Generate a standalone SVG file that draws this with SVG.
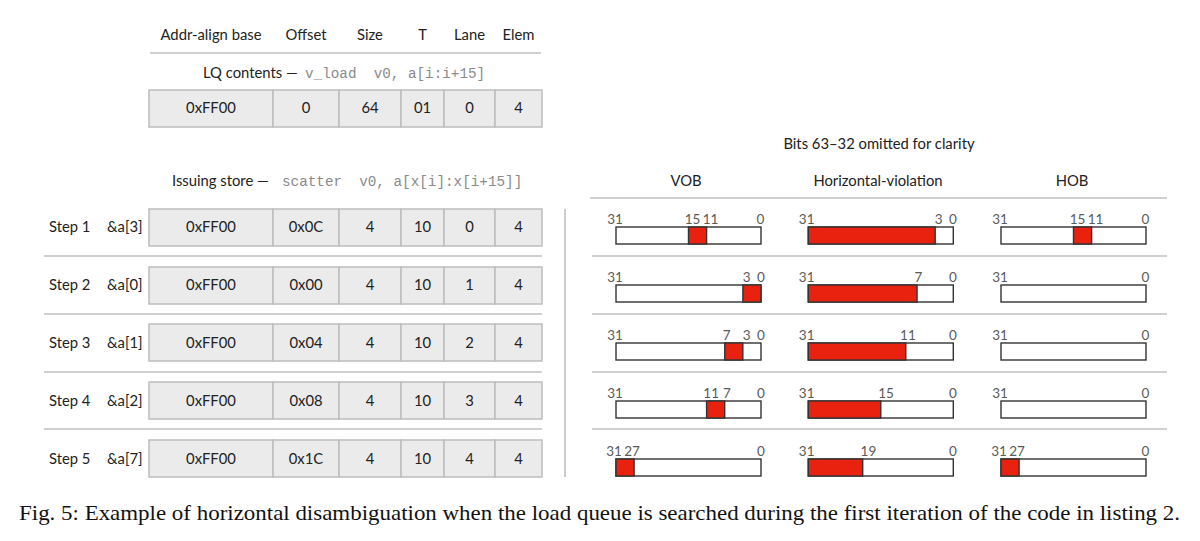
<svg xmlns="http://www.w3.org/2000/svg" width="1200" height="541" viewBox="0 0 1200 541">
<style>
text{font-family:Lato,"Open Sans","Liberation Sans",sans-serif;fill:#222;}
.h{font-size:14.8px;text-anchor:middle;}
.c{font-size:14.8px;text-anchor:middle;}
.s{font-size:14.8px;}
.m{font-family:"Liberation Mono","DejaVu Sans Mono",monospace;fill:#8a8a8a;font-size:14.3px;}
.cell{fill:#ebebeb;stroke:#bdbdbd;stroke-width:1.5;}
.sep{stroke:#d0d0d0;stroke-width:2;fill:none;}
.bar{fill:#fff;stroke:#333;stroke-width:1.4;}
.red{fill:#e8220f;stroke:#333;stroke-width:1.4;}
.b{font-size:13.5px;fill:#5a5a5a;text-anchor:middle;}
.cap{font-family:"Liberation Serif","Times New Roman",serif;font-size:21px;fill:#111;}
</style>
<defs>
<g id="rowcells">
<rect class="cell" x="149" y="0" width="124" height="37"/>
<rect class="cell" x="273" y="0" width="66" height="37"/>
<rect class="cell" x="339" y="0" width="62" height="37"/>
<rect class="cell" x="401" y="0" width="43" height="37"/>
<rect class="cell" x="444" y="0" width="51" height="37"/>
<rect class="cell" x="495" y="0" width="47" height="37"/>
</g>
</defs>

<g id="header">
<text class="h" x="211" y="40">Addr-align base</text>
<text class="h" x="306" y="40">Offset</text>
<text class="h" x="370" y="40">Size</text>
<text class="h" x="422.5" y="40">T</text>
<text class="h" x="469.5" y="40">Lane</text>
<text class="h" x="518.5" y="40">Elem</text>
<line class="sep" x1="150" y1="53" x2="541" y2="53"/>
<text class="s" x="203" y="78">LQ contents —<tspan class="m" x="305" xml:space="preserve">v_load  v0, a[i:i+15]</tspan></text>
</g>

<g id="lq-row">
<use href="#rowcells" y="90"/>
<text class="c" x="211" y="113">0xFF00</text>
<text class="c" x="306" y="113">0</text>
<text class="c" x="370" y="113">64</text>
<text class="c" x="422.5" y="113">01</text>
<text class="c" x="469.5" y="113">0</text>
<text class="c" x="518.5" y="113">4</text>
</g>

<g id="store-title">
<text class="s" x="172" y="186">Issuing store —<tspan class="m" x="282" xml:space="preserve">scatter  v0, a[x[i]:x[i+15]]</tspan></text>
</g>

<g id="bits-header">
<text class="h" x="879" y="149">Bits 63–32 omitted for clarity</text>
<text class="h" x="686" y="186">VOB</text>
<text class="h" x="878" y="186">Horizontal-violation</text>
<text class="h" x="1072" y="186">HOB</text>
<line class="sep" x1="590" y1="198" x2="1167" y2="198"/>
</g>

<g id="connectors">
<line class="sep" x1="44" y1="256" x2="542" y2="256"/>
<line class="sep" x1="44" y1="314" x2="542" y2="314"/>
<line class="sep" x1="44" y1="372" x2="542" y2="372"/>
<line class="sep" x1="44" y1="429" x2="542" y2="429"/>
<line class="sep" x1="592" y1="256" x2="1167" y2="256"/>
<line class="sep" x1="592" y1="314" x2="1167" y2="314"/>
<line class="sep" x1="592" y1="372" x2="1167" y2="372"/>
<line class="sep" x1="592" y1="429" x2="1167" y2="429"/>
<line x1="565" y1="209" x2="565" y2="477" stroke="#bdbdbd" stroke-width="1.5"/>
</g>

<g id="step1">
<text class="s" x="49" y="232">Step 1</text>
<text class="s" x="107" y="232">&amp;a[3]</text>
<use href="#rowcells" y="209"/>
<text class="c" x="211" y="232">0xFF00</text>
<text class="c" x="306" y="232">0x0C</text>
<text class="c" x="370" y="232">4</text>
<text class="c" x="422.5" y="232">10</text>
<text class="c" x="469.5" y="232">0</text>
<text class="c" x="518.5" y="232">4</text>
<rect class="bar" x="616" y="227" width="145" height="17"/>
<rect class="red" x="688.5" y="227" width="18.1" height="17"/>
<text class="b" x="615" y="224">31</text><text class="b" x="692.5" y="224">15</text><text class="b" x="710.5" y="224">11</text><text class="b" x="760.5" y="224">0</text>
<rect class="bar" x="808.3" y="227" width="145" height="17"/>
<rect class="red" x="808.3" y="227" width="126.9" height="17"/>
<text class="b" x="806.7" y="224">31</text><text class="b" x="938.7" y="224">3</text><text class="b" x="953" y="224">0</text>
<rect class="bar" x="1001" y="227" width="145" height="17"/>
<rect class="red" x="1073.5" y="227" width="18.1" height="17"/>
<text class="b" x="1000" y="224">31</text><text class="b" x="1077.5" y="224">15</text><text class="b" x="1095.5" y="224">11</text><text class="b" x="1145.5" y="224">0</text>
</g>

<g id="step2">
<text class="s" x="49" y="290">Step 2</text>
<text class="s" x="107" y="290">&amp;a[0]</text>
<use href="#rowcells" y="267"/>
<text class="c" x="211" y="290">0xFF00</text>
<text class="c" x="306" y="290">0x00</text>
<text class="c" x="370" y="290">4</text>
<text class="c" x="422.5" y="290">10</text>
<text class="c" x="469.5" y="290">1</text>
<text class="c" x="518.5" y="290">4</text>
<rect class="bar" x="616" y="285" width="145" height="17"/>
<rect class="red" x="742.9" y="285" width="18.1" height="17"/>
<text class="b" x="615" y="282">31</text><text class="b" x="746.7" y="282">3</text><text class="b" x="761" y="282">0</text>
<rect class="bar" x="808.3" y="285" width="145" height="17"/>
<rect class="red" x="808.3" y="285" width="108.75" height="17"/>
<text class="b" x="806.7" y="282">31</text><text class="b" x="918.3" y="282">7</text><text class="b" x="953" y="282">0</text>
<rect class="bar" x="1001" y="285" width="145" height="17"/>
<text class="b" x="1000" y="282">31</text><text class="b" x="1145.5" y="282">0</text>
</g>

<g id="step3">
<text class="s" x="49" y="348">Step 3</text>
<text class="s" x="107" y="348">&amp;a[1]</text>
<use href="#rowcells" y="324"/>
<text class="c" x="211" y="348">0xFF00</text>
<text class="c" x="306" y="348">0x04</text>
<text class="c" x="370" y="348">4</text>
<text class="c" x="422.5" y="348">10</text>
<text class="c" x="469.5" y="348">2</text>
<text class="c" x="518.5" y="348">4</text>
<rect class="bar" x="616" y="343" width="145" height="17"/>
<rect class="red" x="724.75" y="343" width="18.1" height="17"/>
<text class="b" x="615" y="340">31</text><text class="b" x="726.7" y="340">7</text><text class="b" x="746.7" y="340">3</text><text class="b" x="761" y="340">0</text>
<rect class="bar" x="808.3" y="343" width="145" height="17"/>
<rect class="red" x="808.3" y="343" width="97.5" height="17"/>
<text class="b" x="806.7" y="340">31</text><text class="b" x="907.9" y="340">11</text><text class="b" x="953" y="340">0</text>
<rect class="bar" x="1001" y="343" width="145" height="17"/>
<text class="b" x="1000" y="340">31</text><text class="b" x="1145.5" y="340">0</text>
</g>

<g id="step4">
<text class="s" x="49" y="406">Step 4</text>
<text class="s" x="107" y="406">&amp;a[2]</text>
<use href="#rowcells" y="382"/>
<text class="c" x="211" y="406">0xFF00</text>
<text class="c" x="306" y="406">0x08</text>
<text class="c" x="370" y="406">4</text>
<text class="c" x="422.5" y="406">10</text>
<text class="c" x="469.5" y="406">3</text>
<text class="c" x="518.5" y="406">4</text>
<rect class="bar" x="616" y="401" width="145" height="17"/>
<rect class="red" x="706.6" y="401" width="18.1" height="17"/>
<text class="b" x="615" y="398">31</text><text class="b" x="711.2" y="398">11</text><text class="b" x="727" y="398">7</text><text class="b" x="761" y="398">0</text>
<rect class="bar" x="808.3" y="401" width="145" height="17"/>
<rect class="red" x="808.3" y="401" width="72.5" height="17"/>
<text class="b" x="806.7" y="398">31</text><text class="b" x="886" y="398">15</text><text class="b" x="953" y="398">0</text>
<rect class="bar" x="1001" y="401" width="145" height="17"/>
<text class="b" x="1000" y="398">31</text><text class="b" x="1145.5" y="398">0</text>
</g>

<g id="step5">
<text class="s" x="49" y="464">Step 5</text>
<text class="s" x="107" y="464">&amp;a[7]</text>
<use href="#rowcells" y="440"/>
<text class="c" x="211" y="464">0xFF00</text>
<text class="c" x="306" y="464">0x1C</text>
<text class="c" x="370" y="464">4</text>
<text class="c" x="422.5" y="464">10</text>
<text class="c" x="469.5" y="464">4</text>
<text class="c" x="518.5" y="464">4</text>
<rect class="bar" x="616" y="459" width="145" height="17"/>
<rect class="red" x="616" y="459" width="18.1" height="17"/>
<text class="b" x="614" y="456">31</text><text class="b" x="632" y="456">27</text><text class="b" x="761" y="456">0</text>
<rect class="bar" x="808.3" y="459" width="145" height="17"/>
<rect class="red" x="808.3" y="459" width="54.4" height="17"/>
<text class="b" x="806.7" y="456">31</text><text class="b" x="868.4" y="456">19</text><text class="b" x="953" y="456">0</text>
<rect class="bar" x="1001" y="459" width="145" height="17"/>
<rect class="red" x="1001" y="459" width="18.1" height="17"/>
<text class="b" x="999" y="456">31</text><text class="b" x="1017" y="456">27</text><text class="b" x="1145.5" y="456">0</text>
</g>

<g id="caption">
<text class="cap" x="19" y="520" textLength="1161" lengthAdjust="spacingAndGlyphs">Fig. 5: Example of horizontal disambiguation when the load queue is searched during the first iteration of the code in listing 2.</text>
</g>
</svg>
